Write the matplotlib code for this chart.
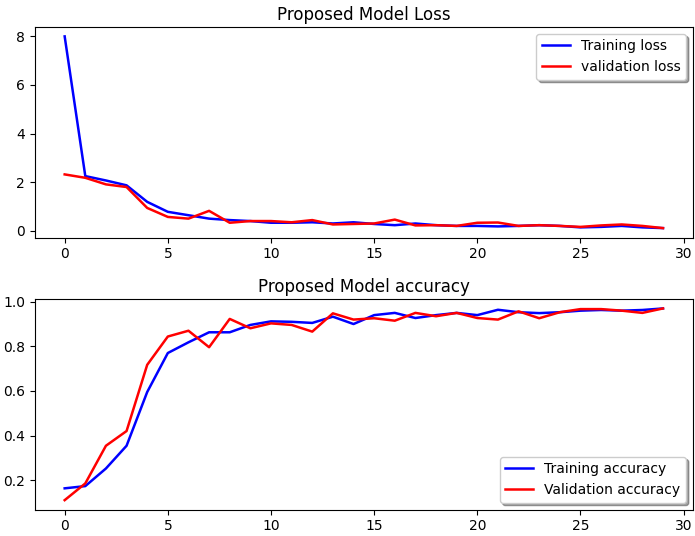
import matplotlib
matplotlib.use('Agg')
import matplotlib.pyplot as plt

# ── Data ─────────────────────────────────────────────────────
epochs = list(range(30))

train_loss = [8.0, 2.25, 2.07, 1.87, 1.19, 0.78, 0.64, 0.50, 0.44, 0.40,
              0.33, 0.33, 0.35, 0.30, 0.35, 0.28, 0.23, 0.30, 0.23, 0.20,
              0.20, 0.18, 0.20, 0.23, 0.20, 0.14, 0.16, 0.20, 0.14, 0.11]
val_loss = [2.32, 2.18, 1.91, 1.80, 0.94, 0.57, 0.50, 0.82, 0.33, 0.40,
            0.40, 0.35, 0.44, 0.26, 0.28, 0.30, 0.46, 0.22, 0.23, 0.20,
            0.33, 0.34, 0.20, 0.23, 0.20, 0.16, 0.22, 0.26, 0.20, 0.11]

train_acc = [0.163, 0.173, 0.252, 0.354, 0.595, 0.770, 0.818, 0.863, 0.863, 0.896,
             0.912, 0.910, 0.905, 0.933, 0.900, 0.940, 0.950, 0.927, 0.940, 0.950,
             0.940, 0.964, 0.953, 0.949, 0.953, 0.960, 0.963, 0.960, 0.963, 0.970]
val_acc = [0.110, 0.185, 0.354, 0.420, 0.717, 0.844, 0.870, 0.796, 0.923, 0.881,
           0.903, 0.896, 0.866, 0.948, 0.920, 0.926, 0.915, 0.950, 0.935, 0.950,
           0.927, 0.920, 0.957, 0.926, 0.953, 0.967, 0.967, 0.960, 0.950, 0.970]

# ── Figure ───────────────────────────────────────────────────
fig, (ax1, ax2) = plt.subplots(2, 1, figsize=(6.95, 5.36), dpi=100)
fig.subplots_adjust(left=0.050, right=0.997, top=0.950, bottom=0.049, hspace=0.29)

ax1.plot(epochs, train_loss, color='blue', lw=1.8, label='Training loss')
ax1.plot(epochs, val_loss, color='red', lw=1.8, label='validation loss')
ax1.set_title('Proposed Model Loss', pad=5)
ax1.legend(loc='upper right', shadow=True)

ax2.plot(epochs, train_acc, color='blue', lw=1.8, label='Training accuracy')
ax2.plot(epochs, val_acc, color='red', lw=1.8, label='Validation accuracy')
ax2.set_title('Proposed Model accuracy', pad=5)
ax2.legend(loc='lower right', shadow=True)

fig.savefig('out.png', dpi=100)
